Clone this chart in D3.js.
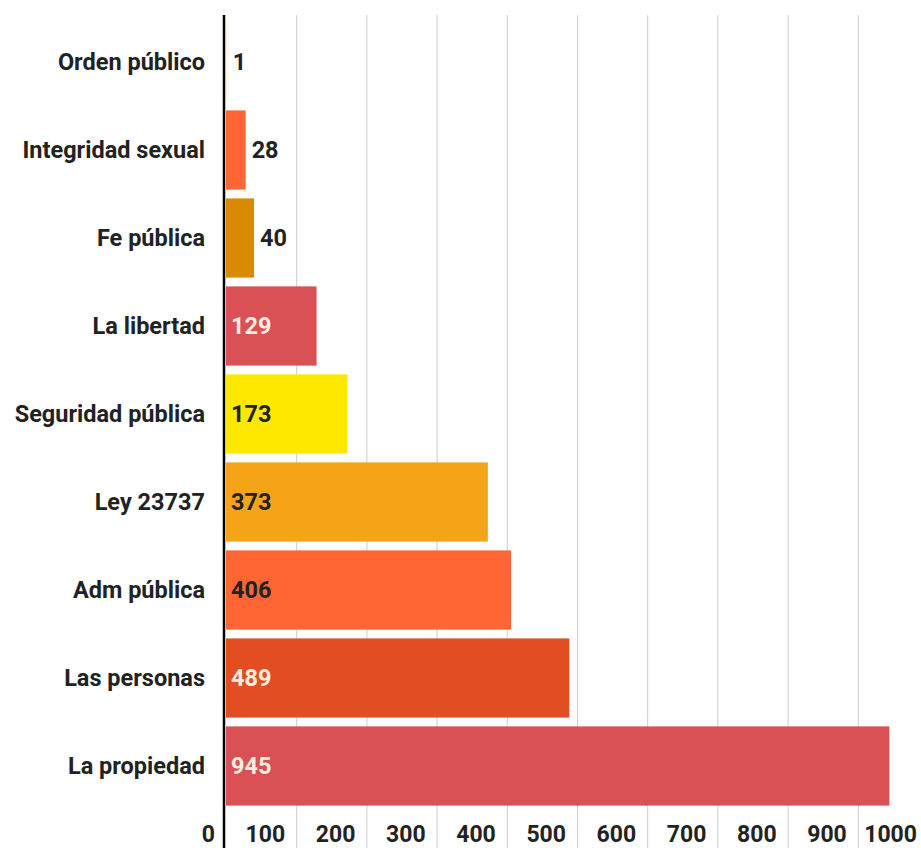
<!DOCTYPE html>
<html>
<head>
<meta charset="utf-8">
<script src="https://cdn.jsdelivr.net/npm/d3@7"></script>
<style>
    body { margin: 0; background: #fff; }
    text { font-family: Roboto, "Noto Sans", sans-serif; }
</style>
</head>
<body>
<div id="chart_container"></div>
<script>
var categories = ["Orden público", "Integridad sexual", "Fe pública", "La libertad",
    "Seguridad pública", "Ley 23737", "Adm pública", "Las personas", "La propiedad"];
var values = [1, 28, 40, 129, 173, 373, 406, 489, 945];
var barColors = ["#fff4d4", "#ff6633", "#d98a00", "#d95055", "#ffe800",
    "#f4a416", "#ff6633", "#e24e22", "#d95055"];
var labelColors = ["#222", "#222", "#222", "#fbeee0", "#222", "#222", "#222", "#fbeee0", "#fbeee0"];
var tickValues = [0, 100, 200, 300, 400, 500, 600, 700, 800, 900, 1000];

function display_chart() {
    var width = 921, height = 848;

    var x = d3.scaleLinear()
        .domain([0, 1000])
        .range([226, 928]);
    var y = d3.scaleBand()
        .domain(categories)
        .range([18, 810])
        .paddingInner(0.1)
        .paddingOuter(0.05);

    var svg = d3.select("#chart_container").append("svg")
        .attr("width", width)
        .attr("height", height);

    var data = categories.map(function (c, i) {
        return {name: c, value: values[i], color: barColors[i], label: labelColors[i]};
    });

    // vertical grid lines
    svg.append("g")
        .selectAll("line")
        .data(tickValues.slice(1))
        .enter().append("line")
        .attr("x1", function (d) { return x(d) + 0.5; })
        .attr("x2", function (d) { return x(d) + 0.5; })
        .attr("y1", 15)
        .attr("y2", height)
        .attr("stroke", "#cccccc")
        .attr("stroke-width", 1);

    svg.selectAll(".bar")
        .data(data)
        .enter().append("rect")
        .attr("class", "bar")
        .attr("x", x(0))
        .attr("y", function (d) { return y(d.name); })
        .attr("width", function (d) { return Math.max(1.5, x(d.value) - x(0)); })
        .attr("height", y.bandwidth())
        .attr("fill", function (d) { return d.color; });

    // axis line
    svg.append("line")
        .attr("x1", 224).attr("x2", 224)
        .attr("y1", 15).attr("y2", height)
        .attr("stroke", "#000")
        .attr("stroke-width", 2.5);

    // category labels
    svg.append("g")
        .selectAll("text")
        .data(data)
        .enter().append("text")
        .attr("x", 205)
        .attr("y", function (d) { return y(d.name) + y.bandwidth() / 2; })
        .attr("dy", "0.35em")
        .attr("text-anchor", "end")
        .attr("font-size", 23.5)
        .attr("font-weight", 700)
        .attr("fill", "#222")
        .text(function (d) { return d.name; });

    // value labels
    svg.append("g")
        .selectAll("text")
        .data(data)
        .enter().append("text")
        .attr("x", function (d) {
            return d.value > 100 ? x(0) + 5 : x(d.value) + 6;
        })
        .attr("y", function (d) { return y(d.name) + y.bandwidth() / 2; })
        .attr("dy", "0.35em")
        .attr("font-size", 23.5)
        .attr("font-weight", 700)
        .attr("fill", function (d) { return d.label; })
        .text(function (d) { return d.value; });

    // x tick labels
    svg.append("g")
        .selectAll("text")
        .data(tickValues)
        .enter().append("text")
        .attr("x", function (d) { return x(d) - 11; })
        .attr("y", 842)
        .attr("text-anchor", "end")
        .attr("font-size", 23)
        .attr("font-weight", 700)
        .attr("fill", "#222")
        .text(function (d) { return d; });
}

display_chart();
</script>
</body>
</html>
